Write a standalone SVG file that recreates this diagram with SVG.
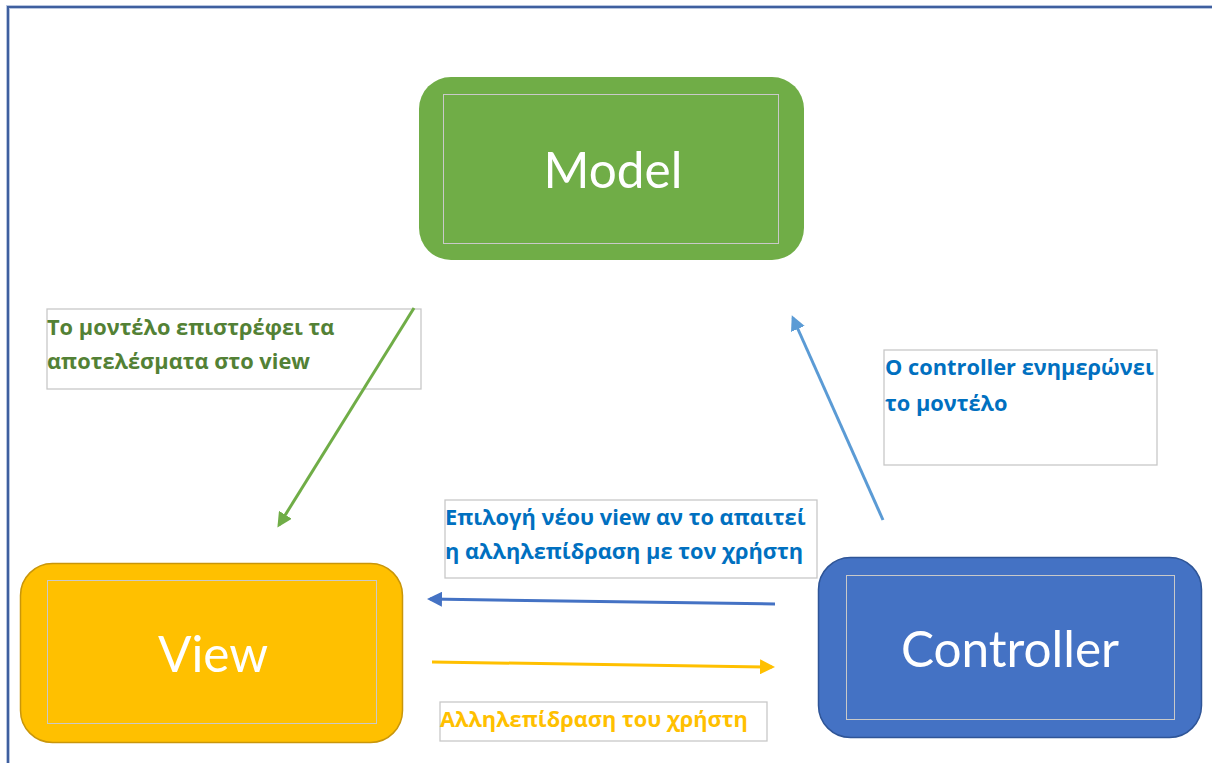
<svg xmlns="http://www.w3.org/2000/svg" width="1212" height="763" viewBox="0 0 1212 763">
  <defs>
    <style>
      .node-label { font-family: Lato, "Open Sans", "Liberation Sans", sans-serif; fill: #ffffff; text-anchor: middle; font-size: 49.5px; }
      .inner { fill: none; stroke: #c9c9c9; stroke-width: 1; }
      .note-box { fill: #ffffff; stroke: #c8c8c8; stroke-width: 1.3; }
      .note { font-family: "Open Sans", "Noto Sans", "DejaVu Sans", sans-serif; font-weight: bold; font-size: 21.8px; }
      .conn { fill: none; stroke-width: 3; }
    </style>
    <marker id="head-green" viewBox="0 0 10 10" refX="8" refY="5" markerWidth="5" markerHeight="5" orient="auto" markerUnits="strokeWidth">
      <path d="M0,0 L10,5 L0,10 z" fill="#70ad47"/>
    </marker>
    <marker id="head-lightblue" viewBox="0 0 10 10" refX="8" refY="5" markerWidth="5" markerHeight="5" orient="auto" markerUnits="strokeWidth">
      <path d="M0,0 L10,5 L0,10 z" fill="#5b9bd5"/>
    </marker>
    <marker id="head-blue" viewBox="0 0 10 10" refX="8" refY="5" markerWidth="5" markerHeight="5" orient="auto" markerUnits="strokeWidth">
      <path d="M0,0 L10,5 L0,10 z" fill="#4472c4"/>
    </marker>
    <marker id="head-yellow" viewBox="0 0 10 10" refX="8" refY="5" markerWidth="5" markerHeight="5" orient="auto" markerUnits="strokeWidth">
      <path d="M0,0 L10,5 L0,10 z" fill="#ffc000"/>
    </marker>
  </defs>

  <rect x="0" y="0" width="1212" height="763" fill="#ffffff"/>

  <!-- page frame -->
  <g id="frame">
    <path d="M8,763 V7 H1212" fill="none" stroke="#b8c6e0" stroke-width="4"/>
    <path d="M8,763 V7 H1212" fill="none" stroke="#3f5f9f" stroke-width="2"/>
  </g>

  <!-- label boxes -->
  <g id="note-model-view">
    <rect class="note-box" x="47" y="309" width="374" height="80"/>
    <text class="note" fill="#538135"><tspan x="47" y="335">Το μοντέλο επιστρέφει τα</tspan><tspan x="47" y="369">αποτελέσματα στο view</tspan></text>
  </g>
  <g id="note-controller-model">
    <rect class="note-box" x="884" y="350" width="273" height="115"/>
    <text class="note" fill="#0070c0"><tspan x="885" y="375">Ο controller ενημερώνει</tspan><tspan x="885" y="411">το μοντέλο</tspan></text>
  </g>
  <g id="note-controller-view">
    <rect class="note-box" x="445" y="500" width="372" height="78"/>
    <text class="note" fill="#0070c0"><tspan x="445" y="525">Επιλογή νέου view αν το απαιτεί</tspan><tspan x="445" y="559">η αλληλεπίδραση με τον χρήστη</tspan></text>
  </g>
  <g id="note-view-controller">
    <rect class="note-box" x="440" y="702" width="327" height="39"/>
    <text class="note" fill="#ffc000" x="440" y="727">Αλληλεπίδραση του χρήστη</text>
  </g>

  <!-- connectors -->
  <g id="connectors">
    <line class="conn" x1="414" y1="308" x2="279" y2="525" stroke="#70ad47" marker-end="url(#head-green)"/>
    <line class="conn" x1="883" y1="520" x2="793" y2="318" stroke="#5b9bd5" marker-end="url(#head-lightblue)"/>
    <line class="conn" x1="775" y1="604" x2="430" y2="599" stroke="#4472c4" marker-end="url(#head-blue)"/>
    <line class="conn" x1="432" y1="662" x2="772" y2="667" stroke="#ffc000" marker-end="url(#head-yellow)"/>
  </g>

  <!-- nodes -->
  <g id="model">
    <rect x="419" y="77" width="385" height="183" rx="32" fill="#70ad47"/>
    <rect class="inner" x="443.5" y="94.5" width="335" height="149"/>
    <text class="node-label" x="613" y="188">Model</text>
  </g>
  <g id="view">
    <rect x="20.5" y="563.5" width="382" height="179" rx="32" fill="#ffc000" stroke="#c9960a" stroke-width="1.5"/>
    <rect class="inner" x="47.5" y="580.5" width="329" height="143"/>
    <text class="node-label" x="213" y="672">View</text>
  </g>
  <g id="controller">
    <rect x="818.5" y="557.5" width="383" height="180" rx="32" fill="#4472c4" stroke="#2f5597" stroke-width="1.5"/>
    <rect class="inner" x="846.5" y="575.5" width="328" height="144"/>
    <text class="node-label" x="1010" y="667">Controller</text>
  </g>
</svg>
